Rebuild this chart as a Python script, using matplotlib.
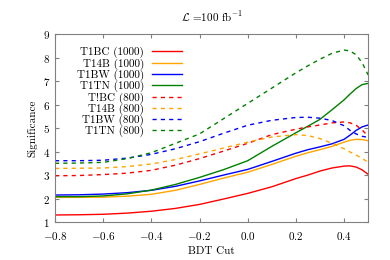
import matplotlib
matplotlib.use('Agg')
from matplotlib import pyplot as plt

# BDT cut values (shared by all series)
bdt = [-0.8, -0.7, -0.6, -0.5, -0.4, -0.3, -0.2, -0.1, 0.0, 0.1, 0.2, 0.25,
       0.3, 0.35, 0.4, 0.425, 0.45, 0.475, 0.5]

# 1000 GeV samples (solid)
t1bc_1000 = [1.30, 1.31, 1.33, 1.38, 1.46, 1.58, 1.75, 1.98, 2.22, 2.50, 2.85, 3.00,
             3.17, 3.30, 3.38, 3.39, 3.34, 3.22, 3.03]
t14b_1000 = [2.05, 2.05, 2.06, 2.10, 2.18, 2.35, 2.60, 2.87, 3.12, 3.45, 3.80, 3.95,
             4.08, 4.22, 4.40, 4.48, 4.52, 4.51, 4.46]
t1bw_1000 = [2.15, 2.16, 2.19, 2.25, 2.35, 2.52, 2.75, 3.00, 3.24, 3.58, 3.93, 4.08,
             4.20, 4.33, 4.52, 4.70, 4.90, 5.05, 5.13]
t1tn_1000 = [2.08, 2.08, 2.11, 2.20, 2.36, 2.60, 2.90, 3.23, 3.61, 4.22, 4.80, 5.08,
             5.37, 5.78, 6.20, 6.45, 6.68, 6.85, 6.90]

# 800 GeV samples (dashed)
t1bc_800 = [2.97, 2.98, 3.02, 3.08, 3.20, 3.42, 3.70, 4.02, 4.35, 4.72, 4.95, 5.05,
            5.13, 5.22, 5.26, 5.22, 5.12, 4.92, 4.65]
t14b_800 = [3.28, 3.29, 3.30, 3.36, 3.47, 3.66, 3.90, 4.15, 4.40, 4.62, 4.72, 4.68,
            4.55, 4.35, 4.12, 3.98, 3.85, 3.70, 3.55]
t1bw_800 = [3.61, 3.61, 3.63, 3.72, 3.88, 4.12, 4.42, 4.78, 5.12, 5.33, 5.45, 5.46,
            5.42, 5.32, 5.10, 4.90, 4.75, 4.65, 4.60]
t1tn_800 = [3.50, 3.51, 3.54, 3.70, 3.95, 4.35, 4.75, 5.40, 6.05, 6.70, 7.35, 7.65,
            7.93, 8.18, 8.32, 8.28, 8.12, 7.78, 7.26]

labels = ['T1BC (1000)', 'T14B (1000)', 'T1BW (1000)', 'T1TN (1000)',
          'T!BC (800)', 'T14B (800)', 'T1BW (800)', 'T1TN (800)']

plt.rcParams.update({
    'font.family': 'cmr10',
    'mathtext.fontset': 'cm',
    'axes.formatter.use_mathtext': True,
    'font.size': 8,
})

fig = plt.figure(figsize=(3.9, 2.6), dpi=100)
ax = fig.add_axes([0.141, 0.146, 0.803, 0.723])

colors = ['red', 'orange', 'blue', 'green']
solid = [t1bc_1000, t14b_1000, t1bw_1000, t1tn_1000]
dashed = [t1bc_800, t14b_800, t1bw_800, t1tn_800]
for c, s, l in zip(colors, solid, labels[:4]):
    ax.plot(bdt, s, color=c, lw=1.0, label=l)
for c, s, l in zip(colors, dashed, labels[4:]):
    ax.plot(bdt, s, color=c, lw=1.0, ls=(0, (3, 3)), label=l)

ax.set_xlim(-0.8, 0.5)
ax.set_ylim(1, 9)
ax.set_xticks([-0.8, -0.6, -0.4, -0.2, 0, 0.2, 0.4])
ax.set_yticks(range(1, 10))
ax.tick_params(direction='in', top=True, right=True, length=3, color='#808080')
ax.tick_params(axis='x', pad=6)
for sp in ax.spines.values():
    sp.set_color('#808080')

ax.set_xlabel('BDT Cut', labelpad=3)
ax.set_ylabel('Significance')
ax.set_title(r'$\mathcal{L}$ =100 fb$^{-1}$', fontsize=8, pad=9)

ax.legend(loc='upper right', bbox_to_anchor=(0.405, 0.93), frameon=False,
          markerfirst=False, handlelength=2.7, handletextpad=0.7,
          labelspacing=0.0, borderpad=0, borderaxespad=0)

plt.savefig('out.png')
